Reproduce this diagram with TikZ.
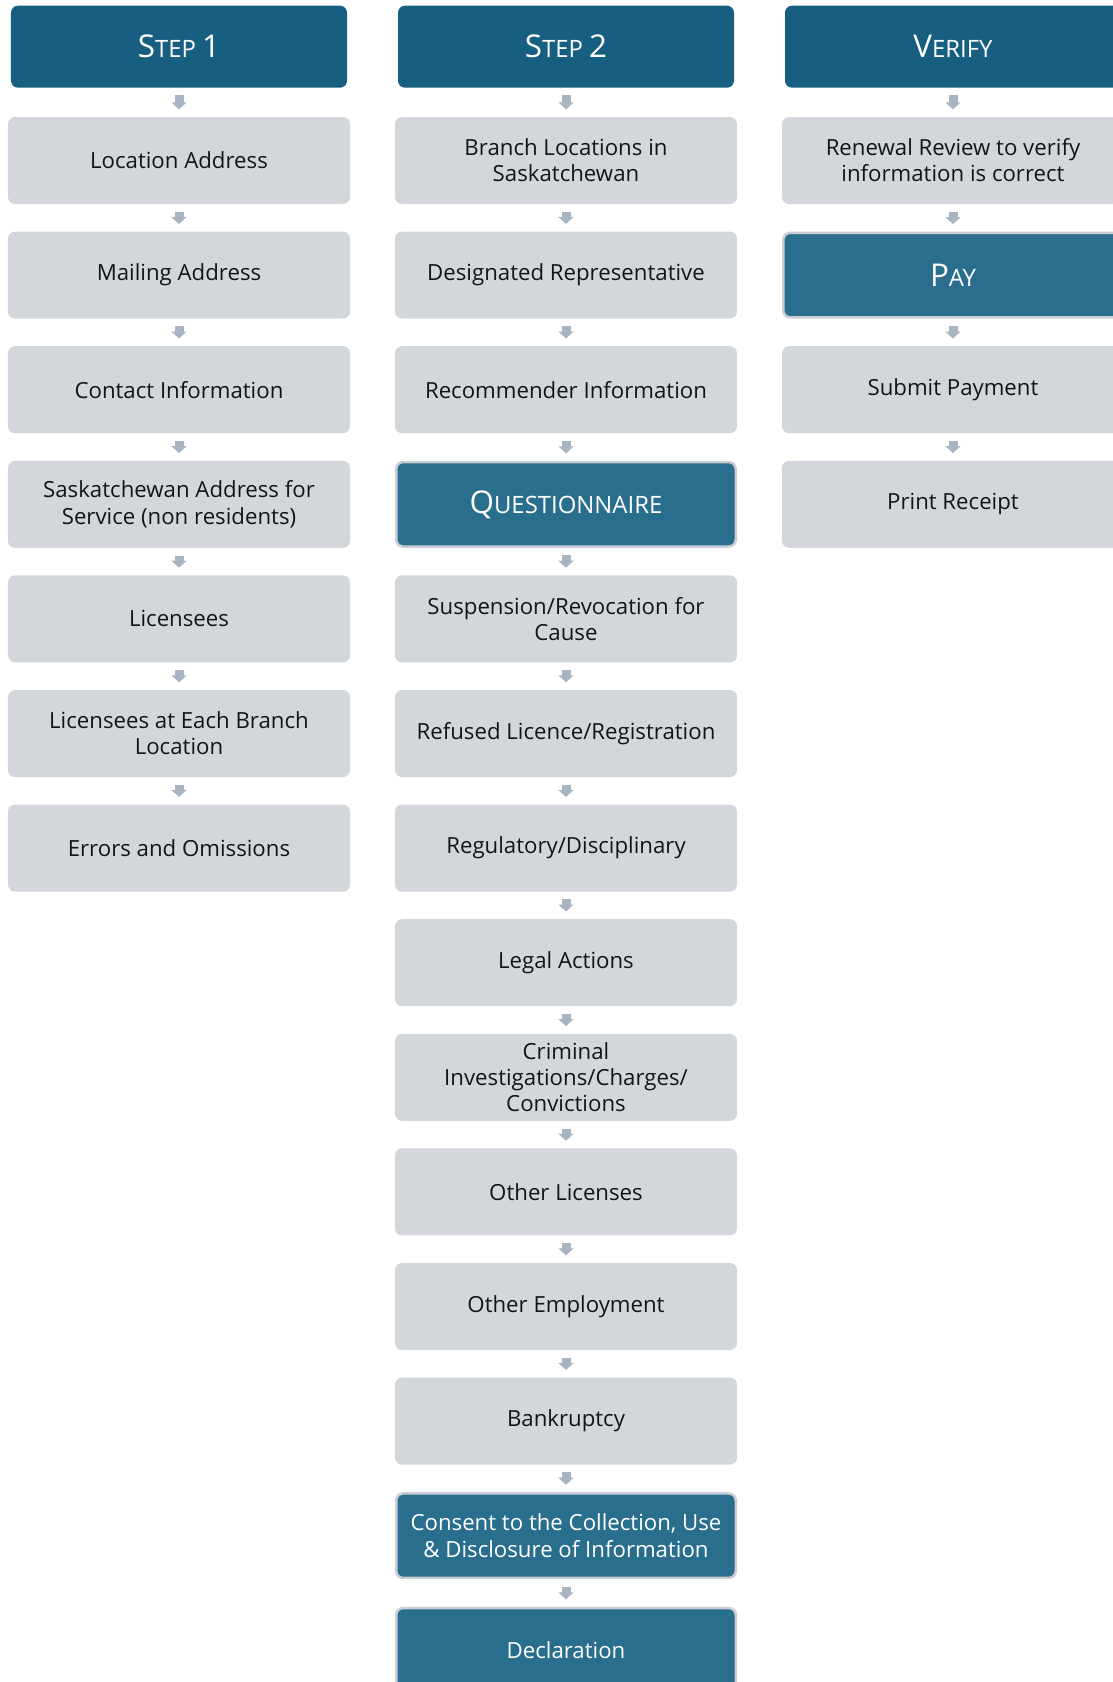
\documentclass[tikz,border=0pt]{standalone}
\usepackage{fontspec}
\setmainfont{Open Sans}
\usetikzlibrary{arrows.meta}
\definecolor{headteal}{HTML}{175F81}
\definecolor{boxteal}{HTML}{2A6E8D}
\definecolor{boxedge}{HTML}{C9CED5}
\definecolor{boxgray}{HTML}{D3D7DC}
\definecolor{arrowc}{HTML}{A9B4C2}
\definecolor{textdark}{HTML}{141414}
\newcommand\bodyfont{\fontsize{22.3}{26.3}\selectfont}
\newcommand\hbig{\fontsize{31.5}{34}\selectfont}
\newcommand\hsmall{\fontsize{24}{34}\selectfont}
\tikzset{
  graybox/.style={rounded corners=7bp, fill=boxgray, minimum width=342bp, minimum height=87bp,
    text=textdark, font=\bodyfont, align=center, inner sep=0pt},
  darkbox/.style={graybox, fill=boxteal, draw=boxedge, line width=2.5bp, text=white,
    minimum width=339.5bp, minimum height=84.5bp},
  headbox/.style={rounded corners=7bp, fill=headteal, minimum width=336bp, minimum height=82bp,
    text=white, inner sep=0pt},
  flow/.style={draw=arrowc, line width=9bp, shorten <=7.5bp, shorten >=7.5bp,
    -{Triangle[width=15bp,length=7bp]}}
}
\begin{document}
\begin{tikzpicture}[x=1bp,y=-1bp]
\useasboundingbox[fill=white] (0,0) rectangle (1112,1682);
% headers
\node[headbox] (h1) at (179,46.7) {\hbig S\hsmall TEP \hbig 1};
\node[headbox] (h2) at (566,46.7) {\hbig S\hsmall TEP \hbig 2};
\node[headbox] (h3) at (953,46.7) {\hbig V\hsmall ERIFY};
% column 1
\node[graybox] (a1) at (179,160.5) {Location Address};
\node[graybox] (a2) at (179,275.1) {Mailing Address};
\node[graybox] (a3) at (179,389.7) {Contact Information};
\node[graybox] (a4) at (179,504.3) {Saskatchewan Address for\\Service (non residents)};
\node[graybox] (a5) at (179,618.9) {Licensees};
\node[graybox] (a6) at (179,733.5) {Licensees at Each Branch\\Location};
\node[graybox] (a7) at (179,848.1) {Errors and Omissions};
% column 2
\node[graybox] (b1) at (566,160.5) {Branch Locations in\\Saskatchewan};
\node[graybox] (b2) at (566,275.1) {Designated Representative};
\node[graybox] (b3) at (566,389.7) {Recommender Information};
\node[darkbox] (b4) at (566,504.3) {\hbig Q\hsmall UESTIONNAIRE};
\node[graybox] (b5) at (566,618.9) {Suspension/Revocation for\\Cause};
\node[graybox] (b6) at (566,733.5) {Refused Licence/Registration};
\node[graybox] (b7) at (566,848.1) {Regulatory/Disciplinary};
\node[graybox] (b8) at (566,962.7) {Legal Actions};
\node[graybox] (b9) at (566,1077.3) {Criminal\\Investigations/Charges/\\Convictions};
\node[graybox] (b10) at (566,1191.9) {Other Licenses};
\node[graybox] (b11) at (566,1306.5) {Other Employment};
\node[graybox] (b12) at (566,1421.1) {Bankruptcy};
\node[darkbox] (b13) at (566,1535.7) {Consent to the Collection, Use\\\& Disclosure of Information};
\node[darkbox] (b14) at (566,1650.3) {Declaration};
% column 3
\node[graybox] (c1) at (953,160.5) {Renewal Review to verify\\information is correct};
\node[darkbox] (c2) at (953,275.1) {\hbig P\hsmall AY};
\node[graybox] (c3) at (953,389.7) {Submit Payment};
\node[graybox] (c4) at (953,504.3) {Print Receipt};
% connectors
\draw[flow] (h1.south) -- (a1.north);
\foreach \p/\q in {a1/a2,a2/a3,a3/a4,a4/a5,a5/a6,a6/a7}
  \draw[flow] (\p.south) -- (\q.north);
\draw[flow] (h2.south) -- (b1.north);
\foreach \p/\q in {b1/b2,b2/b3,b3/b4,b4/b5,b5/b6,b6/b7,b7/b8,b8/b9,b9/b10,b10/b11,b11/b12,b12/b13,b13/b14}
  \draw[flow] (\p.south) -- (\q.north);
\draw[flow] (h3.south) -- (c1.north);
\foreach \p/\q in {c1/c2,c2/c3,c3/c4}
  \draw[flow] (\p.south) -- (\q.north);
\end{tikzpicture}
\end{document}
